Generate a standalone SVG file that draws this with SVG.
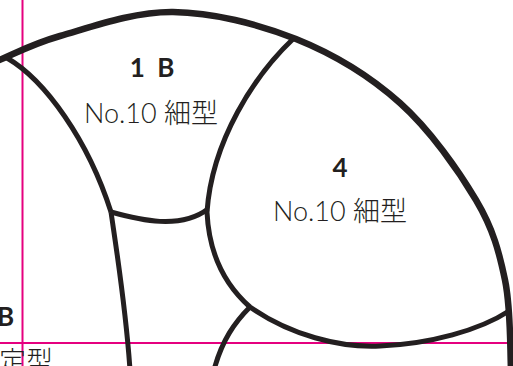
<svg xmlns="http://www.w3.org/2000/svg" width="513" height="366" viewBox="0 0 513 366">
<style>
.ln{fill:none;stroke:#231f20;stroke-linecap:butt;stroke-linejoin:round}
.outer{stroke-width:6.5}
.inner{stroke-width:5}
.guide{fill:none;stroke:#e5007f;stroke-width:2}
.num{font-family:"Lato","Noto Sans","Noto Sans CJK JP",sans-serif;font-weight:700;font-size:26px;fill:#231f20}
.lbl{font-family:"Lato","Noto Sans","Noto Sans CJK JP",sans-serif;font-weight:300;font-size:27px;fill:#231f20}
</style>
<rect width="513" height="366" fill="#ffffff"/>
<g id="guides">
<line class="guide" x1="22.5" y1="0" x2="22.5" y2="366"/>
<line class="guide" x1="0" y1="343" x2="509" y2="343"/>
</g>
<g id="connectors">
<path class="ln outer" d="M-10,64 C13.3,54.7 29.5,44.7 60,36 C90.5,27.3 133.7,11.5 173,12 C212.3,12.5 258.2,23.8 296,39 C333.8,54.2 370,76.2 400,103 C430,129.8 458.5,170.5 476,200 C493.5,229.5 499.2,252.3 505,280 C510.8,307.7 510,346 511,370"/>
<path class="ln inner" d="M7,58 C45,80 88,140 111,212"/>
<path class="ln inner" d="M111,212 C118,260 126,310 130,370"/>
<path class="ln inner" d="M111,212 C140,220 180,230 208,209"/>
<path class="ln inner" d="M293,39 C255,75 212,140 207,212 C209,255 225,285 250,307 C290,335 340,348 380,346 C430,344 480,330 509,311"/>
<path class="ln inner" d="M250,307 C235,322 222,340 214,370"/>
</g>
<g id="node-1B">
<text class="num" x="152" y="77" text-anchor="middle" word-spacing="6">1 B</text>
<text class="lbl" x="151" y="123" text-anchor="middle">No.10 細型</text>
</g>
<g id="node-4">
<text class="num" x="340" y="177" text-anchor="middle">4</text>
<text class="lbl" x="340" y="221" text-anchor="middle">No.10 細型</text>
</g>
<g id="node-left">
<text class="num" x="14" y="326" text-anchor="end">B</text>
<text class="lbl" x="-1" y="371" font-size="24">定型</text>
</g>
</svg>
